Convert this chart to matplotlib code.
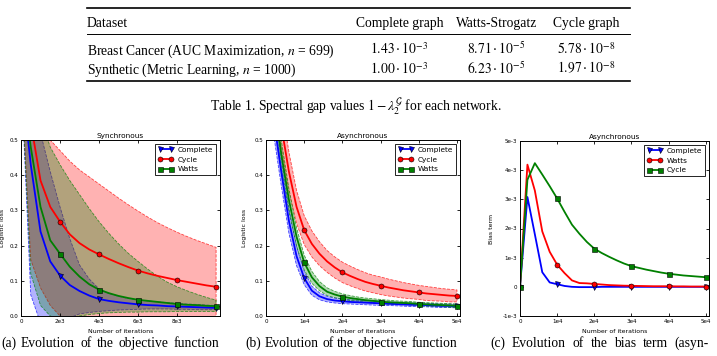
import matplotlib
matplotlib.use('Agg')
import matplotlib.pyplot as plt
from matplotlib.colors import to_rgba

plt.rcParams['mathtext.fontset'] = 'stix'

# ---- table data ----
tab_header = ['Dataset', 'Complete graph', 'Watts-Strogatz', 'Cycle graph']
tab_rows = [r'Breast Cancer (AUC Maximization, $n$ = 699)',
            r'Synthetic (Metric Learning, $n$ = 1000)']
tab_vals = [[r'$1.43\cdot10^{-3}$', r'$8.71\cdot10^{-5}$', r'$5.78\cdot10^{-8}$'],
            [r'$1.00\cdot10^{-3}$', r'$6.23\cdot10^{-5}$', r'$1.97\cdot10^{-8}$']]
tab_caption = r'Table 1. Spectral gap values $1-\lambda_2^{\mathcal{G}}$ for each network.'

# ---- (a) synchronous, logistic loss ----
xa = [0, 500, 1000, 1500, 2000, 2500, 3000, 3500, 4000, 4500, 5000,
      5500, 6000, 6500, 7000, 7500, 8000, 8500, 9000, 9500, 10000]
a_complete = [0.69, 0.43, 0.24, 0.155, 0.115, 0.088, 0.071, 0.058, 0.048, 0.043, 0.039,
              0.036, 0.033, 0.031, 0.030, 0.028, 0.027, 0.026, 0.025, 0.024, 0.023]
a_complete_hi = [0.69, 0.69, 0.52, 0.41, 0.31, 0.22, 0.145, 0.105, 0.077, 0.064, 0.056,
                 0.050, 0.046, 0.043, 0.040, 0.038, 0.036, 0.034, 0.033, 0.031, 0.030]
a_complete_lo = [0.69, 0.06, -0.02, -0.03, -0.02, -0.005, 0.006, 0.010, 0.013, 0.015, 0.017,
                 0.018, 0.019, 0.020, 0.020, 0.020, 0.019, 0.019, 0.018, 0.018, 0.018]
a_cycle = [0.69, 0.55, 0.385, 0.31, 0.268, 0.232, 0.207, 0.189, 0.175, 0.162, 0.150,
           0.139, 0.129, 0.121, 0.114, 0.108, 0.102, 0.097, 0.092, 0.087, 0.083]
a_cycle_hi = [0.69, 0.69, 0.56, 0.50, 0.47, 0.44, 0.415, 0.395, 0.375, 0.355, 0.335,
              0.316, 0.298, 0.281, 0.265, 0.251, 0.238, 0.226, 0.215, 0.205, 0.195]
a_cycle_lo = [0.69, 0.16, 0.08, 0.03, 0.0, -0.03, -0.05, -0.05, -0.05, -0.05, -0.05,
              -0.05, -0.05, -0.05, -0.05, -0.05, -0.05, -0.05, -0.05, -0.05, -0.05]
a_watts = [0.69, 0.48, 0.31, 0.215, 0.177, 0.14, 0.112, 0.090, 0.075, 0.065, 0.057,
           0.051, 0.046, 0.043, 0.040, 0.037, 0.034, 0.032, 0.031, 0.029, 0.028]
a_watts_hi = [0.69, 0.69, 0.56, 0.48, 0.43, 0.385, 0.345, 0.305, 0.268, 0.235, 0.205,
              0.178, 0.155, 0.133, 0.113, 0.096, 0.083, 0.072, 0.062, 0.053, 0.045]
a_watts_lo = [0.69, 0.12, 0.03, 0.0, -0.01, -0.005, 0.0, 0.004, 0.007, 0.009, 0.010,
              0.011, 0.011, 0.012, 0.012, 0.012, 0.013, 0.013, 0.013, 0.013, 0.013]

# ---- (b) asynchronous, logistic loss ----
xb = [0, 2000, 4000, 6000, 8000, 10000, 12000, 14000, 16000, 18000, 20000, 22000, 24000,
      26000, 28000, 30000, 32000, 34000, 36000, 38000, 40000, 42000, 44000, 46000, 48000, 50000]
b_complete = [0.69, 0.56, 0.41, 0.27, 0.17, 0.108, 0.072, 0.056, 0.048, 0.044, 0.042, 0.040, 0.039,
              0.038, 0.037, 0.036, 0.035, 0.034, 0.033, 0.032, 0.032, 0.031, 0.030, 0.029, 0.029, 0.028]
b_complete_sd = [0.0, 0.045, 0.04, 0.035, 0.027, 0.019, 0.013, 0.010, 0.008, 0.007, 0.007, 0.006, 0.006,
                 0.006, 0.006, 0.006, 0.005, 0.005, 0.005, 0.005, 0.005, 0.005, 0.005, 0.005, 0.005, 0.005]
b_cycle = [0.69, 0.68, 0.54, 0.41, 0.31, 0.244, 0.205, 0.177, 0.155, 0.138, 0.124, 0.114, 0.105,
           0.097, 0.091, 0.086, 0.081, 0.077, 0.073, 0.070, 0.067, 0.064, 0.062, 0.060, 0.058, 0.057]
b_cycle_sd = [0.0, 0.06, 0.065, 0.056, 0.047, 0.041, 0.037, 0.034, 0.031, 0.030, 0.029, 0.028, 0.027,
              0.026, 0.025, 0.025, 0.024, 0.023, 0.022, 0.021, 0.020, 0.020, 0.019, 0.018, 0.018, 0.017]
b_watts = [0.69, 0.62, 0.46, 0.33, 0.225, 0.152, 0.11, 0.085, 0.069, 0.061, 0.055, 0.051, 0.048,
           0.045, 0.043, 0.041, 0.039, 0.038, 0.037, 0.036, 0.034, 0.033, 0.032, 0.031, 0.030, 0.029]
b_watts_sd = [0.0, 0.05, 0.04, 0.032, 0.026, 0.021, 0.017, 0.013, 0.011, 0.009, 0.008, 0.007, 0.006,
              0.006, 0.006, 0.006, 0.006, 0.005, 0.005, 0.005, 0.005, 0.005, 0.005, 0.005, 0.005, 0.005]

# ---- (c) asynchronous, bias term ----
xc = xb
c_complete = [0, 3.08e-3, 1.8e-3, 0.5e-3, 0.15e-3, 0.09e-3, 0.03e-3, 0.0, -0.01e-3, -0.01e-3, -0.01e-3, 0, 0,
              0, 0, 0, 0, 0, 0, 0, 0, 0, 0, 0, 0, 0]
c_watts = [0, 4.19e-3, 3.3e-3, 1.9e-3, 1.2e-3, 0.76e-3, 0.47e-3, 0.22e-3, 0.13e-3, 0.12e-3, 0.10e-3,
           0.08e-3, 0.06e-3, 0.05e-3, 0.04e-3, 0.035e-3, 0.03e-3, 0.025e-3, 0.02e-3, 0.02e-3, 0.02e-3,
           0.015e-3, 0.015e-3, 0.01e-3, 0.01e-3, 0.01e-3]
c_cycle = [0, 3.67e-3, 4.24e-3, 3.85e-3, 3.45e-3, 3.03e-3, 2.57e-3, 2.13e-3, 1.82e-3, 1.54e-3, 1.31e-3,
           1.16e-3, 1.03e-3, 0.91e-3, 0.80e-3, 0.71e-3, 0.65e-3, 0.59e-3, 0.54e-3, 0.49e-3, 0.45e-3,
           0.42e-3, 0.39e-3, 0.37e-3, 0.35e-3, 0.33e-3]

W, H = 717, 356
fig = plt.figure(figsize=(W / 100, H / 100), dpi=100)
fig.patch.set_facecolor('white')


def fx(px):
    return px / W


def fy(py):
    return 1 - py / H


serif = 'Liberation Serif'
TS = 9.8

# table rules
for y, lw in [(7.5, 1.2), (34.3, 0.7), (81, 1.2)]:
    fig.add_artist(plt.Line2D([fx(87), fx(630)], [fy(y), fy(y)], color='k', lw=lw))

col_x = [399.5, 496.5, 586.5]
fig.text(fx(87), fy(27), tab_header[0], family=serif, fontsize=TS, va='baseline')
for cx, h in zip(col_x, tab_header[1:]):
    fig.text(fx(cx), fy(27), h, family=serif, fontsize=TS, va='baseline', ha='center')
for yb, name, vals in zip([54.5, 73.5], tab_rows, tab_vals):
    fig.text(fx(87), fy(yb), name, family=serif, fontsize=TS, va='baseline')
    for cx, v in zip(col_x, vals):
        fig.text(fx(cx), fy(yb), v, family=serif, fontsize=TS, va='baseline', ha='center')
fig.text(fx(356), fy(111), tab_caption, family=serif, fontsize=TS, va='baseline', ha='center')


def style(ax):
    ax.tick_params(direction='in', top=True, right=True, length=2.2, width=0.6,
                   labelsize=4.1, pad=2)
    for s in ax.spines.values():
        s.set_linewidth(0.7)


def band(ax, x, lo, hi, c):
    ax.fill_between(x, lo, hi, facecolor=to_rgba(c, 0.3), edgecolor=to_rgba(c, 0.7),
                    linestyle='--', linewidth=0.6)


def curve(ax, x, y, c, m, label, every):
    ax.plot(x, y, color=c, marker=m, markevery=every, ms=3.6, mec='k', mew=0.4,
            lw=1.3, label=label)


def legend(ax):
    leg = ax.legend(loc='upper right', fontsize=5.3, numpoints=2, fancybox=False,
                    edgecolor='k', framealpha=1, borderpad=0.4, handlelength=2.1,
                    labelspacing=0.5, borderaxespad=0.5, handletextpad=0.6)
    leg.get_frame().set_linewidth(0.6)


def labels(ax, title, ylabel, ylx):
    ax.set_title(title, fontsize=5.3, pad=1.5)
    ax.set_xlabel('Number of iterations', fontsize=4.5)
    ax.set_ylabel(ylabel, fontsize=4.5)
    ax.xaxis.set_label_coords(0.5, -0.074)
    ax.yaxis.set_label_coords(ylx, 0.5)


# (a)
ax1 = fig.add_axes([fx(21), fy(316), 199 / W, 176 / H])
style(ax1)
band(ax1, xa, a_complete_lo, a_complete_hi, 'b')
band(ax1, xa, a_cycle_lo, a_cycle_hi, 'r')
band(ax1, xa, a_watts_lo, a_watts_hi, 'g')
curve(ax1, xa, a_complete, 'b', 'v', 'Complete', (4, 4))
curve(ax1, xa, a_cycle, 'r', 'o', 'Cycle', (4, 4))
curve(ax1, xa, a_watts, 'g', 's', 'Watts', (4, 4))
ax1.set_xlim(0, 10200)
ax1.set_ylim(0, 0.5)
ax1.set_xticks([0, 2000, 4000, 6000, 8000])
ax1.set_xticklabels(['0', '2e3', '4e3', '6e3', '8e3'])
ax1.set_yticks([0, 0.1, 0.2, 0.3, 0.4, 0.5])
labels(ax1, 'Synchronous', 'Logistic loss', -0.082)
legend(ax1)

# (b)
ax2 = fig.add_axes([fx(266), fy(316), 194 / W, 176 / H])
style(ax2)
for mean, sd, c in [(b_complete, b_complete_sd, 'b'), (b_cycle, b_cycle_sd, 'r'),
                    (b_watts, b_watts_sd, 'g')]:
    band(ax2, xb, [m - s for m, s in zip(mean, sd)], [m + s for m, s in zip(mean, sd)], c)
curve(ax2, xb, b_complete, 'b', 'v', 'Complete', (5, 5))
curve(ax2, xb, b_cycle, 'r', 'o', 'Cycle', (5, 5))
curve(ax2, xb, b_watts, 'g', 's', 'Watts', (5, 5))
ax2.set_xlim(0, 50800)
ax2.set_ylim(0, 0.5)
ax2.set_xticks([0, 10000, 20000, 30000, 40000, 50000])
ax2.set_xticklabels(['0', '1e4', '2e4', '3e4', '4e4', '5e4'])
ax2.set_yticks([0, 0.1, 0.2, 0.3, 0.4, 0.5])
labels(ax2, 'Asynchronous', 'Logistic loss', -0.098)
legend(ax2)

# (c)
ax3 = fig.add_axes([fx(520), fy(316), 189 / W, 175 / H])
style(ax3)
curve(ax3, xc, c_complete, 'b', 'v', 'Complete', 5)
curve(ax3, xc, c_watts, 'r', 'o', 'Watts', 5)
curve(ax3, xc, c_cycle, 'g', 's', 'Cycle', 5)
ax3.set_xlim(0, 50900)
ax3.set_ylim(-1e-3, 5e-3)
ax3.set_xticks([0, 10000, 20000, 30000, 40000, 50000])
ax3.set_xticklabels(['0', '1e4', '2e4', '3e4', '4e4', '5e4'])
ax3.set_yticks([-1e-3, 0, 1e-3, 2e-3, 3e-3, 4e-3, 5e-3])
ax3.set_yticklabels(['-1e-3', '0', '1e-3', '2e-3', '3e-3', '4e-3', '5e-3'])
labels(ax3, 'Asynchronous', 'Bias term', -0.138)
legend(ax3)

# justified sub-captions
renderer = fig.canvas.get_renderer()


def justify(words, x0, x1, yb):
    texts = [fig.text(0, fy(yb), w, family=serif, fontsize=TS, va='baseline') for w in words]
    widths = [t.get_window_extent(renderer).width for t in texts]
    gap = (x1 - x0 - sum(widths)) / (len(words) - 1)
    x = x0
    for t, wd in zip(texts, widths):
        t.set_x(fx(x))
        x += wd + gap


justify(['(a)', 'Evolution', 'of', 'the', 'objective', 'function'], 1, 219, 347)
justify(['(b)', 'Evolution', 'of', 'the', 'objective', 'function'], 245, 457, 347)
justify(['(c)', 'Evolution', 'of', 'the', 'bias', 'term', '(asyn-'], 490, 709, 347)

fig.savefig('out.png', dpi=100)
